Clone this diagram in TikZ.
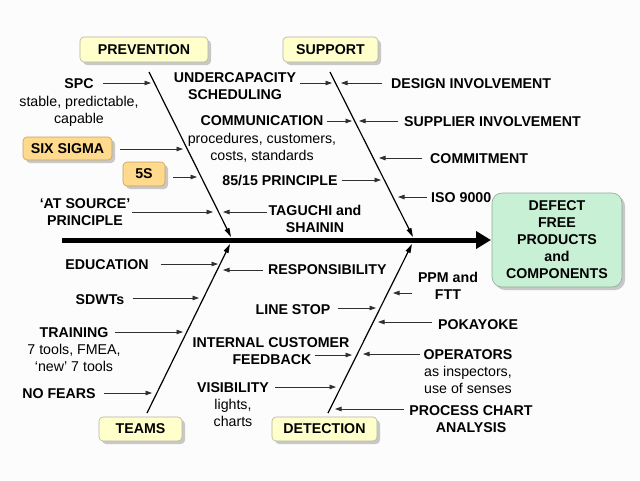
\documentclass[tikz,border=0pt]{standalone}
\usepackage{fontspec}
\setmainfont{Liberation Sans}
\usetikzlibrary{arrows.meta,shadows,calc}
\definecolor{bg}{HTML}{FCFCFC}
\definecolor{catfill}{HTML}{FFFFCC}
\definecolor{catdraw}{HTML}{B4B4A0}
\definecolor{orfill}{HTML}{FFD98C}
\definecolor{ordraw}{HTML}{C8A060}
\definecolor{grfill}{HTML}{C8F0D4}
\definecolor{grdraw}{HTML}{90A898}
\definecolor{arrcol}{HTML}{303030}
\begin{document}
\begin{tikzpicture}[x=1pt,y=-1pt,
  every node/.style={font=\fontsize{14.2}{17}\selectfont\bfseries, inner sep=0pt},
  lbl/.style={anchor=north, align=center},
  lblw/.style={anchor=north west, align=left},
  catbox/.style={draw=catdraw, fill=catfill, rounded corners=4pt, line width=0.6pt,
     drop shadow={shadow xshift=3pt, shadow yshift=-3pt, fill=black!35, opacity=0.6}},
  orbox/.style={draw=ordraw, fill=orfill, rounded corners=4pt, line width=0.6pt,
     drop shadow={shadow xshift=3pt, shadow yshift=-3pt, fill=black!35, opacity=0.6}},
  arr/.style={draw=arrcol, line width=0.8pt, -{Triangle[length=6.5pt,width=4.5pt]}, shorten <=#1},
  arr/.default=8pt,
  bone/.style={draw=black, line width=1.2pt, -{Triangle[length=9pt,width=5pt]}},
]
\fill[bg] (0,0) rectangle (640,480);
\useasboundingbox (0,0) rectangle (640,480);

% spine
\coordinate (sp1) at (62,240);
\coordinate (sp2) at (491,240);
\draw[line width=5pt, -{Triangle[length=15pt,width=17pt]}] (sp1) -- (sp2);

% bones
\coordinate (pv1) at (149,72);  \coordinate (pv2) at (231,237);
\coordinate (su1) at (330,72);  \coordinate (su2) at (413,237);
\coordinate (te1) at (147,413); \coordinate (te2) at (230,244);
\coordinate (de1) at (328,413); \coordinate (de2) at (412,244);
\draw[bone] (pv1) -- (pv2);
\draw[bone] (su1) -- (su2);
\draw[bone] (te1) -- (te2);
\draw[bone] (de1) -- (de2);

% category boxes
\node[catbox, minimum width=128pt, minimum height=25pt] (prev) at (144,49.5) {PREVENTION};
\node[catbox, minimum width=95pt, minimum height=25pt] (supp) at (330.5,49.5) {SUPPORT};
\node[catbox, minimum width=83pt, minimum height=24pt] (teams) at (140.5,429) {TEAMS};
\node[catbox, minimum width=105pt, minimum height=24pt] (detec) at (324.5,429) {DETECTION};
\node[orbox, minimum width=89pt, minimum height=23pt] (six) at (67.5,148.5) {SIX SIGMA};
\node[orbox, minimum width=42pt, minimum height=24pt] (fives) at (144,174) {5S};

% effect box
\node[draw=grdraw, fill=grfill, rounded corners=10pt, line width=0.6pt,
  minimum width=130pt, minimum height=94pt, align=center,
  drop shadow={shadow xshift=3pt, shadow yshift=-3pt, fill=black!35, opacity=0.6}]
  (effect) at (557,240) {DEFECT\\FREE\\PRODUCTS\\and\\COMPONENTS};

% ---- PREVENTION causes
\node[lbl] (spc) at (79,78) {SPC};
\node[lbl] (spcd) at (79,96) {\mdseries stable, predictable,\\\mdseries capable};
\node[lbl] (atsrc) at (85,198) {‘AT SOURCE’\\PRINCIPLE};
\coordinate (t1) at (151,83);
\coordinate (t2) at (183,149);
\coordinate (t3) at (197,177);
\coordinate (t4) at (213,212);
\draw[arr=9pt] (spc.east |- t1) -- (t1);
\draw[arr=8pt] (six.east |- t2) -- (t2);
\draw[arr=8pt] (fives.east |- t3) -- (t3);
\draw[arr=2pt] (atsrc.east |- t4) -- (t4);

% ---- between PREVENTION and SUPPORT
\node[lbl] (under) at (235,72) {UNDERCAPACITY\\SCHEDULING};
\node[lbl] (comm) at (262,115) {COMMUNICATION};
\node[lbl] (commd) at (262,133) {\mdseries procedures, customers,\\\mdseries costs, standards};
\node[lbl] (p8515) at (280,175) {85/15 PRINCIPLE};
\node[lbl] (tag) at (315,205) {TAGUCHI and\\SHAININ};
\coordinate (t5) at (332,83);
\coordinate (t6) at (352,121);
\coordinate (t7) at (381,180);
\coordinate (t8) at (223,212);
\draw[arr=4pt] (under.east |- t5) -- (t5);
\draw[arr=3pt] (comm.east |- t6) -- (t6);
\draw[arr=4pt] (p8515.east |- t7) -- (t7);
\draw[arr=1pt] (tag.west |- t8) -- (t8);

% ---- right of SUPPORT
\node[lblw] (design) at (391,78) {DESIGN INVOLVEMENT};
\node[lblw] (suppl) at (404,116) {SUPPLIER INVOLVEMENT};
\node[lblw] (commit) at (430,153) {COMMITMENT};
\node[lblw] (iso) at (431,192) {ISO 9000};
\coordinate (t9) at (341,83);
\coordinate (t10) at (359,121);
\coordinate (t11) at (379,158);
\coordinate (t12) at (398,197);
\draw[arr=9pt] (design.west |- t9) -- (t9);
\draw[arr=6pt] (suppl.west |- t10) -- (t10);
\draw[arr=8pt] (commit.west |- t11) -- (t11);
\draw[arr=4pt] (iso.west |- t12) -- (t12);

% ---- TEAMS causes
\node[lbl] (edu) at (107,259) {EDUCATION};
\node[lbl] (sdwt) at (100,294) {SDWTs};
\node[lbl] (train) at (74,327) {TRAINING};
\node[lbl] (traind) at (74,344) {\mdseries 7 tools, FMEA,\\\mdseries ‘new’ 7 tools};
\node[lbl] (nofear) at (59,388) {NO FEARS};
\coordinate (t13) at (218,264);
\coordinate (t14) at (199,298);
\coordinate (t15) at (183,332);
\coordinate (t16) at (152,393);
\draw[arr=12pt] (edu.east |- t13) -- (t13);
\draw[arr=8pt] (sdwt.east |- t14) -- (t14);
\draw[arr=6pt] (train.east |- t15) -- (t15);
\draw[arr=8pt] (nofear.east |- t16) -- (t16);

% ---- between TEAMS and DETECTION
\node[lblw] (resp) at (268,264) {RESPONSIBILITY};
\node[lbl] (lstop) at (293,304) {LINE STOP};
\node[lbl] (icf) at (271,337) {INTERNAL CUSTOMER};
\node[lbl] (feed) at (272,354) {FEEDBACK};
\node[lbl] (vis) at (233,382) {VISIBILITY};
\node[lbl] (visd) at (233,399) {\mdseries lights,\\\mdseries charts};
\coordinate (t17) at (223,270);
\coordinate (t18) at (376,308);
\coordinate (t19) at (352,355);
\coordinate (t20) at (336,387);
\draw[arr=5pt] (resp.west |- t17) -- (t17);
\draw[arr=7pt] (lstop.east |- t18) -- (t18);
\draw[arr=3pt] (feed.east |- t19) -- (t19);
\draw[arr=6pt] (vis.east |- t20) -- (t20);

% ---- right of DETECTION
\node[lbl] (ppm) at (448,272) {PPM and\\FTT};
\node[lblw] (poka) at (438,319) {POKAYOKE};
\node[lbl] (oper) at (468,349) {OPERATORS};
\node[lbl] (operd) at (468,366) {\mdseries as inspectors,\\\mdseries use of senses};
\node[lbl] (proc) at (471,405) {PROCESS CHART\\ANALYSIS};
\coordinate (t21) at (393,293);
\coordinate (t22) at (378,322);
\coordinate (t23) at (363,354);
\coordinate (t24) at (335,409);
\draw[arr=6pt] (ppm.west |- t21) -- (t21);
\draw[arr=6pt] (poka.west |- t22) -- (t22);
\draw[arr=3pt] (oper.west |- t23) -- (t23);
\draw[arr=5pt] (proc.west |- t24) -- (t24);
\end{tikzpicture}
\end{document}
